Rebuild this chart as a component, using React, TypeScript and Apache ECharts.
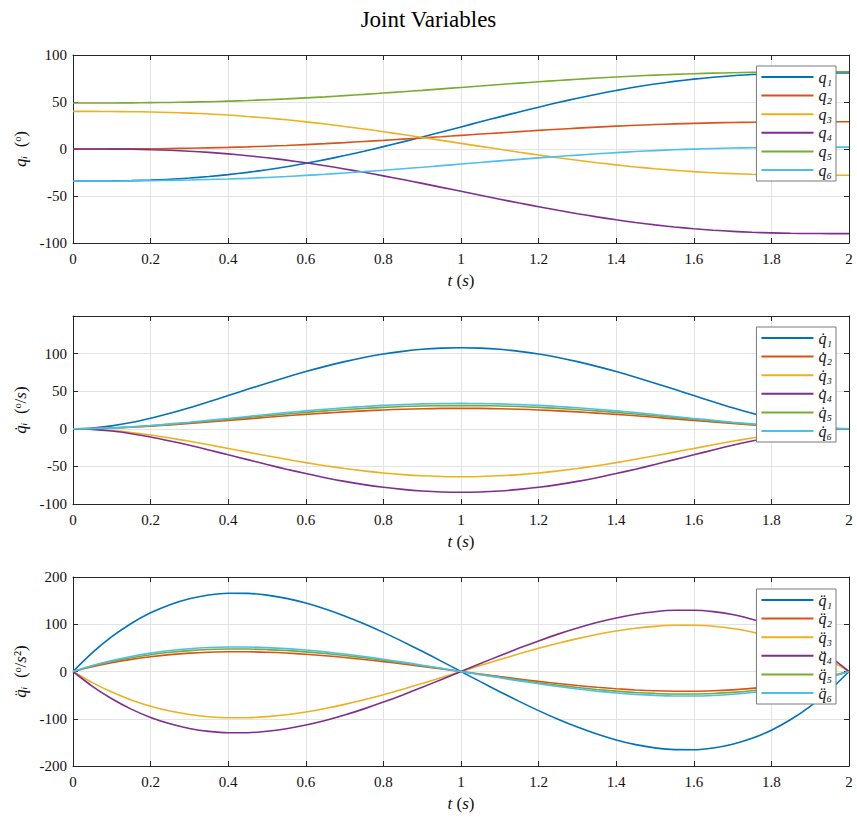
import { useEffect, useRef } from "react";
import * as echarts from "echarts";

// time samples (s)
const tSec = [0, 0.05, 0.1, 0.15, 0.2, 0.25, 0.3, 0.35, 0.4, 0.45, 0.5, 0.55, 0.6, 0.65, 0.7, 0.75, 0.8, 0.85, 0.9, 0.95, 1.0,
  1.05, 1.1, 1.15, 1.2, 1.25, 1.3, 1.35, 1.4, 1.45, 1.5, 1.55, 1.6, 1.65, 1.7, 1.75, 1.8, 1.85, 1.9, 1.95, 2.0];

// joint positions (deg)
const q1 = [-34, -34.0, -33.9, -33.6, -33.0, -32.2, -30.9, -29.3, -27.3, -24.9, -22.1, -18.9, -15.2, -11.3, -7.0, -2.4, 2.5, 7.6, 12.8, 18.1, 23.5,
  28.9, 34.2, 39.4, 44.5, 49.4, 54.0, 58.3, 62.2, 65.9, 69.1, 71.9, 74.3, 76.3, 77.9, 79.2, 80.0, 80.6, 80.9, 81.0, 81];
const q2 = [0, 0.0, 0.0, 0.1, 0.2, 0.5, 0.8, 1.2, 1.7, 2.3, 3.0, 3.8, 4.7, 5.7, 6.8, 8.0, 9.2, 10.5, 11.8, 13.1, 14.5,
  15.9, 17.2, 18.5, 19.8, 21.0, 22.2, 23.3, 24.3, 25.2, 26.0, 26.7, 27.3, 27.8, 28.2, 28.5, 28.8, 28.9, 29.0, 29.0, 29];
const q3 = [40, 40.0, 39.9, 39.7, 39.4, 38.9, 38.2, 37.2, 36.1, 34.6, 33.0, 31.1, 28.9, 26.6, 24.0, 21.3, 18.4, 15.4, 12.3, 9.2, 6.0,
  2.8, -0.3, -3.4, -6.4, -9.3, -12.0, -14.6, -16.9, -19.1, -21.0, -22.6, -24.1, -25.2, -26.2, -26.9, -27.4, -27.7, -27.9, -28.0, -28];
const q4 = [0, 0.0, -0.1, -0.3, -0.8, -1.4, -2.4, -3.6, -5.2, -7.1, -9.3, -11.8, -14.7, -17.8, -21.2, -24.8, -28.6, -32.5, -36.6, -40.8, -45.0,
  -49.2, -53.4, -57.5, -61.4, -65.2, -68.8, -72.2, -75.3, -78.2, -80.7, -82.9, -84.8, -86.4, -87.6, -88.6, -89.2, -89.7, -89.9, -90.0, -90];
const q5 = [49, 49.0, 49.0, 49.1, 49.3, 49.5, 49.9, 50.3, 50.9, 51.6, 52.4, 53.3, 54.4, 55.5, 56.8, 58.1, 59.5, 60.9, 62.4, 64.0, 65.5,
  67.0, 68.6, 70.1, 71.5, 72.9, 74.2, 75.5, 76.6, 77.7, 78.6, 79.4, 80.1, 80.7, 81.1, 81.5, 81.7, 81.9, 82.0, 82.0, 82];
const q6 = [-34, -34.0, -34.0, -33.9, -33.7, -33.4, -33.0, -32.5, -31.9, -31.2, -30.3, -29.3, -28.1, -26.9, -25.5, -24.1, -22.6, -21.0, -19.4, -17.7, -16.0,
  -14.3, -12.6, -11.0, -9.4, -7.9, -6.5, -5.1, -3.9, -2.7, -1.7, -0.8, -0.1, 0.5, 1.0, 1.4, 1.7, 1.9, 2.0, 2.0, 2];

// joint velocities (deg/s)
const dq1 = [0, 1.0, 3.9, 8.3, 14.0, 20.6, 28.0, 36.0, 44.2, 52.5, 60.6, 68.6, 76.1, 83.0, 89.3, 94.8, 99.4, 103.0, 105.7, 107.3, 107.8,
  107.3, 105.7, 103.0, 99.4, 94.8, 89.3, 83.0, 76.1, 68.6, 60.6, 52.5, 44.2, 36.0, 28.0, 20.6, 14.0, 8.3, 3.9, 1.0, 0];
const dq2 = [0, 0.3, 1.0, 2.1, 3.5, 5.2, 7.1, 9.1, 11.1, 13.2, 15.3, 17.3, 19.2, 20.9, 22.5, 23.9, 25.1, 26.0, 26.6, 27.1, 27.2,
  27.1, 26.6, 26.0, 25.1, 23.9, 22.5, 20.9, 19.2, 17.3, 15.3, 13.2, 11.1, 9.1, 7.1, 5.2, 3.5, 2.1, 1.0, 0.3, 0];
const dq3 = [0, -0.6, -2.3, -4.9, -8.3, -12.2, -16.6, -21.3, -26.1, -31.0, -35.9, -40.5, -45.0, -49.1, -52.8, -56.0, -58.8, -60.9, -62.5, -63.4, -63.8,
  -63.4, -62.5, -60.9, -58.8, -56.0, -52.8, -49.1, -45.0, -40.5, -35.9, -31.0, -26.1, -21.3, -16.6, -12.2, -8.3, -4.9, -2.3, -0.6, 0];
const dq4 = [0, -0.8, -3.0, -6.5, -10.9, -16.2, -21.9, -28.1, -34.6, -41.0, -47.5, -53.7, -59.5, -65.0, -69.9, -74.2, -77.8, -80.6, -82.7, -84.0, -84.4,
  -84.0, -82.7, -80.6, -77.8, -74.2, -69.9, -65.0, -59.5, -53.7, -47.5, -41.0, -34.6, -28.1, -21.9, -16.2, -10.9, -6.5, -3.0, -0.8, 0];
const dq5 = [0, 0.3, 1.1, 2.4, 4.0, 5.9, 8.0, 10.3, 12.7, 15.1, 17.4, 19.7, 21.8, 23.8, 25.6, 27.2, 28.5, 29.6, 30.3, 30.8, 30.9,
  30.8, 30.3, 29.6, 28.5, 27.2, 25.6, 23.8, 21.8, 19.7, 17.4, 15.1, 12.7, 10.3, 8.0, 5.9, 4.0, 2.4, 1.1, 0.3, 0];
const dq6 = [0, 0.3, 1.2, 2.6, 4.4, 6.5, 8.8, 11.3, 13.8, 16.4, 19.0, 21.5, 23.8, 26.0, 27.9, 29.7, 31.1, 32.2, 33.1, 33.6, 33.8,
  33.6, 33.1, 32.2, 31.1, 29.7, 27.9, 26.0, 23.8, 21.5, 19.0, 16.4, 13.8, 11.3, 8.8, 6.5, 4.4, 2.6, 1.2, 0.3, 0];

// joint accelerations (deg/s^2)
const ddq1 = [0, 39.9, 73.7, 101.7, 124.2, 141.5, 154.0, 161.9, 165.6, 165.4, 161.7, 154.8, 144.9, 132.4, 117.7, 101.1, 82.8, 63.2, 42.7, 21.5, 0,
  -21.5, -42.7, -63.2, -82.8, -101.1, -117.7, -132.4, -144.9, -154.8, -161.7, -165.4, -165.6, -161.9, -154.0, -141.5, -124.2, -101.7, -73.7, -39.9, 0];
const ddq2 = [0, 10.1, 18.6, 25.7, 31.3, 35.7, 38.8, 40.8, 41.8, 41.7, 40.8, 39.0, 36.5, 33.4, 29.7, 25.5, 20.9, 15.9, 10.8, 5.4, 0,
  -5.4, -10.8, -15.9, -20.9, -25.5, -29.7, -33.4, -36.5, -39.0, -40.8, -41.7, -41.8, -40.8, -38.8, -35.7, -31.3, -25.7, -18.6, -10.1, 0];
const ddq3 = [0, -23.6, -43.6, -60.1, -73.4, -83.7, -91.0, -95.7, -97.9, -97.8, -95.6, -91.5, -85.7, -78.3, -69.6, -59.8, -49.0, -37.4, -25.2, -12.7, 0,
  12.7, 25.2, 37.4, 49.0, 59.8, 69.6, 78.3, 85.7, 91.5, 95.6, 97.8, 97.9, 95.7, 91.0, 83.7, 73.4, 60.1, 43.6, 23.6, 0];
const ddq4 = [0, -31.3, -57.7, -79.6, -97.2, -110.7, -120.5, -126.7, -129.6, -129.5, -126.6, -121.1, -113.4, -103.7, -92.1, -79.1, -64.8, -49.5, -33.4, -16.8, 0,
  16.8, 33.4, 49.5, 64.8, 79.1, 92.1, 103.7, 113.4, 121.1, 126.6, 129.5, 129.6, 126.7, 120.5, 110.7, 97.2, 79.6, 57.7, 31.3, 0];
const ddq5 = [0, 11.5, 21.2, 29.2, 35.6, 40.6, 44.2, 46.5, 47.5, 47.5, 46.4, 44.4, 41.6, 38.0, 33.8, 29.0, 23.8, 18.1, 12.3, 6.2, 0,
  -6.2, -12.3, -18.1, -23.8, -29.0, -33.8, -38.0, -41.6, -44.4, -46.4, -47.5, -47.5, -46.5, -44.2, -40.6, -35.6, -29.2, -21.2, -11.5, 0];
const ddq6 = [0, 12.5, 23.1, 31.8, 38.9, 44.3, 48.2, 50.7, 51.8, 51.8, 50.6, 48.4, 45.4, 41.5, 36.9, 31.6, 25.9, 19.8, 13.4, 6.7, 0,
  -6.7, -13.4, -19.8, -25.9, -31.6, -36.9, -41.5, -45.4, -48.4, -50.6, -51.8, -51.8, -50.7, -48.2, -44.3, -38.9, -31.8, -23.1, -12.5, 0];

const posNames = ["q\u2081", "q\u2082", "q\u2083", "q\u2084", "q\u2085", "q\u2086"];
const velNames = ["q\u0307\u2081", "q\u0307\u2082", "q\u0307\u2083", "q\u0307\u2084", "q\u0307\u2085", "q\u0307\u2086"];
const accNames = ["q\u0308\u2081", "q\u0308\u2082", "q\u0308\u2083", "q\u0308\u2084", "q\u0308\u2085", "q\u0308\u2086"];

const yRanges = [
  { min: -100, max: 100, interval: 50 },
  { min: -100, max: 150, interval: 50 },
  { min: -200, max: 200, interval: 100 },
];
const yNames = [
  "{i|q\u1D62}  (\u1D52)",
  "{i|q\u0307\u1D62}  (\u1D52/{i|s})",
  "{i|q\u0308\u1D62}  (\u1D52/{i|s}\u00B2)",
];

const COLORS = ["#0072BD", "#D95319", "#EDB120", "#7E2F8E", "#77AC30", "#4DBEEE"];
const FONT = "Liberation Serif";
const AXIS = "#262626";
const GRIDC = "#e3e3e3";

export default function App() {
  const ref = useRef<HTMLDivElement>(null);
  useEffect(() => {
    const chart = echarts.init(ref.current!, undefined, { renderer: "svg" });
    const groups = [
      { names: posNames, data: [q1, q2, q3, q4, q5, q6] },
      { names: velNames, data: [dq1, dq2, dq3, dq4, dq5, dq6] },
      { names: accNames, data: [ddq1, ddq2, ddq3, ddq4, ddq5, ddq6] },
    ];
    const gridTops = [55, 316, 577];
    const gridHeights = [188, 188, 189];
    const legendTops = [66, 327, 589];

    const grid: any[] = [];
    const xAxis: any[] = [];
    const yAxis: any[] = [];
    const legend: any[] = [];
    const series: any[] = [];
    const richI = { i: { fontStyle: "italic", fontFamily: FONT, fontSize: 17, color: "#111" } };

    groups.forEach((g, gi) => {
      grid.push({ left: 73, width: 776, top: gridTops[gi], height: gridHeights[gi] });
      const tick = { show: true, inside: true, length: 5, lineStyle: { color: AXIS } };
      xAxis.push({
        type: "value", gridIndex: gi, min: 0, max: 2, interval: 0.2, position: "bottom",
        axisLine: { show: true, onZero: false, lineStyle: { color: AXIS, width: 1 } },
        axisTick: tick,
        axisLabel: { color: "#111", fontFamily: FONT, fontSize: 15, margin: 8 },
        splitLine: { show: true, lineStyle: { color: GRIDC } },
        name: "{i|t} ({i|s})", nameLocation: "middle", nameGap: 29,
        nameTextStyle: { fontFamily: FONT, fontSize: 17, color: "#111", rich: richI },
      });
      xAxis.push({
        type: "value", gridIndex: gi, min: 0, max: 2, interval: 0.2, position: "top",
        axisLine: { show: true, onZero: false, lineStyle: { color: AXIS, width: 1 } },
        axisTick: tick, axisLabel: { show: false }, splitLine: { show: false },
      });
      const yr = yRanges[gi];
      yAxis.push({
        type: "value", gridIndex: gi, min: yr.min, max: yr.max, interval: yr.interval, position: "left",
        axisLine: { show: true, onZero: false, lineStyle: { color: AXIS, width: 1 } },
        axisTick: tick,
        axisLabel: {
          color: "#111", fontFamily: FONT, fontSize: 15, margin: 6,
          formatter: (v: number) => (gi === 1 && v === 150 ? "" : String(v)),
        },
        splitLine: { show: true, lineStyle: { color: GRIDC } },
        name: yNames[gi], nameLocation: "middle", nameGap: 38, nameRotate: 90,
        nameTextStyle: { fontFamily: FONT, fontSize: 17, color: "#111", rich: richI },
      });
      yAxis.push({
        type: "value", gridIndex: gi, min: yr.min, max: yr.max, interval: yr.interval, position: "right",
        axisLine: { show: true, onZero: false, lineStyle: { color: AXIS, width: 1 } },
        axisTick: tick, axisLabel: { show: false }, splitLine: { show: false },
      });
      legend.push({
        data: g.names, orient: "vertical", right: 21, top: legendTops[gi],
        backgroundColor: "#fff", borderColor: "#7a7a7a", borderWidth: 1, borderRadius: 0,
        padding: [3, 4, 3, 5], itemGap: 2.6, itemWidth: 52, itemHeight: 2, icon: "rect",
        textStyle: { fontFamily: FONT, fontSize: 16, fontStyle: "italic", color: "#111", lineHeight: 16 },
        selectedMode: false,
      });
      g.names.forEach((n, si) => {
        series.push({
          type: "line", name: n, xAxisIndex: gi * 2, yAxisIndex: gi * 2,
          data: tSec.map((tt, k) => [tt, g.data[si][k]]),
          smooth: 0.3, symbol: "none", showSymbol: false,
          lineStyle: { color: COLORS[si], width: 1.6 }, itemStyle: { color: COLORS[si] },
        });
      });
    });

    chart.setOption({
      animation: false,
      backgroundColor: "#fff",
      title: {
        text: "Joint Variables", left: "center", top: 3,
        textStyle: { fontFamily: FONT, fontSize: 23, fontWeight: "normal", color: "#000" },
      },
      grid, xAxis, yAxis, legend, series,
    });
    return () => chart.dispose();
  }, []);
  return <div ref={ref} style={{ position: "absolute", left: 0, top: 0, width: 857, height: 818 }} />;
}
